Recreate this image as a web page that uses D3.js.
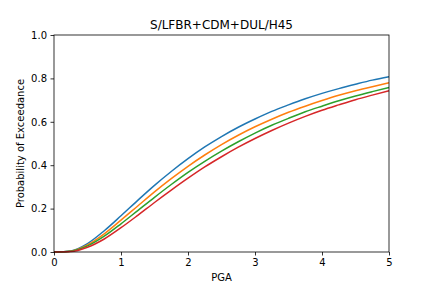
<!DOCTYPE html>
<html>
<head>
<meta charset="utf-8">
<script src="https://cdn.jsdelivr.net/npm/d3@7"></script>
<style>
  body { margin: 0; background: #fff; }
  svg { display: block; font-family: "DejaVu Sans", sans-serif; }
</style>
</head>
<body>
<svg width="432" height="288"></svg>
<script>
// PGA points the curves were read at
const pga = [0, 0.25, 0.5, 0.75, 1, 1.25, 1.5, 1.75, 2, 2.25, 2.5, 2.75, 3, 3.25, 3.5, 3.75, 4, 4.25, 4.5, 4.75, 5]

// probability of exceedance, one list per damage curve
const blueVals   = [0, 0.005, 0.039, 0.098, 0.167, 0.238, 0.307, 0.371, 0.430, 0.484, 0.532, 0.575, 0.613, 0.648, 0.678, 0.706, 0.731, 0.753, 0.773, 0.792, 0.808]
const orangeVals = [0, 0.004, 0.033, 0.084, 0.147, 0.212, 0.277, 0.338, 0.395, 0.447, 0.495, 0.538, 0.577, 0.612, 0.644, 0.672, 0.698, 0.722, 0.743, 0.762, 0.780]
const greenVals  = [0, 0.004, 0.028, 0.073, 0.130, 0.191, 0.252, 0.311, 0.367, 0.418, 0.465, 0.508, 0.548, 0.584, 0.616, 0.646, 0.672, 0.697, 0.719, 0.739, 0.758]
const redVals    = [0, 0.002, 0.022, 0.060, 0.112, 0.169, 0.228, 0.285, 0.340, 0.392, 0.439, 0.483, 0.523, 0.560, 0.594, 0.625, 0.653, 0.678, 0.702, 0.723, 0.743]

const seriesColors = ["#1f77b4", "#ff7f0e", "#2ca02c", "#d62728"]
const xTicks = [0, 1, 2, 3, 4, 5]
const yTicks = [0, 0.2, 0.4, 0.6, 0.8, 1.0]

const svg = d3.select("svg")
const mLeft = 54, mRight = 389, mTop = 35, mBottom = 252

const x = d3.scaleLinear().domain([0, 5]).range([mLeft, mRight])
const y = d3.scaleLinear().domain([0, 1]).range([mBottom, mTop])

// curves
const line = d3.line()
  .x((d, i) => x(pga[i]))
  .y(d => y(d))
  .curve(d3.curveMonotoneX)

const plot = svg.append("g")
;[blueVals, orangeVals, greenVals, redVals].forEach((vals, k) => {
  plot.append("path")
    .attr("d", line(vals))
    .attr("fill", "none")
    .attr("stroke", seriesColors[k])
    .attr("stroke-width", 1.5)
})

// axes
const xAxis = d3.axisBottom(x).tickValues(xTicks).tickFormat(d3.format("d")).tickSize(3.5).tickPadding(3.5)
const yAxis = d3.axisLeft(y).tickValues(yTicks).tickFormat(d3.format(".1f")).tickSize(3.5).tickPadding(3.5)

const gx = svg.append("g").attr("transform", `translate(0,${mBottom})`).call(xAxis)
const gy = svg.append("g").attr("transform", `translate(${mLeft},0)`).call(yAxis)
;[gx, gy].forEach(g => {
  g.select(".domain").remove()
  g.selectAll("line").attr("stroke", "#000").attr("stroke-width", 0.8)
  g.selectAll("text").attr("font-size", 10).attr("fill", "#000").attr("font-family", "DejaVu Sans")
})

// frame
svg.append("rect")
  .attr("x", mLeft).attr("y", mTop)
  .attr("width", mRight - mLeft).attr("height", mBottom - mTop)
  .attr("fill", "none").attr("stroke", "#000").attr("stroke-width", 0.8)

// labels
svg.append("text")
  .attr("x", (mLeft + mRight) / 2).attr("y", 29)
  .attr("text-anchor", "middle").attr("font-size", 12)
  .text("S/LFBR+CDM+DUL/H45")

svg.append("text")
  .attr("x", (mLeft + mRight) / 2).attr("y", 281)
  .attr("text-anchor", "middle").attr("font-size", 10)
  .text("PGA")

svg.append("text")
  .attr("transform", `translate(24,${(mTop + mBottom) / 2}) rotate(-90)`)
  .attr("text-anchor", "middle").attr("font-size", 10)
  .text("Probability of Exceedance")
</script>
</body>
</html>
